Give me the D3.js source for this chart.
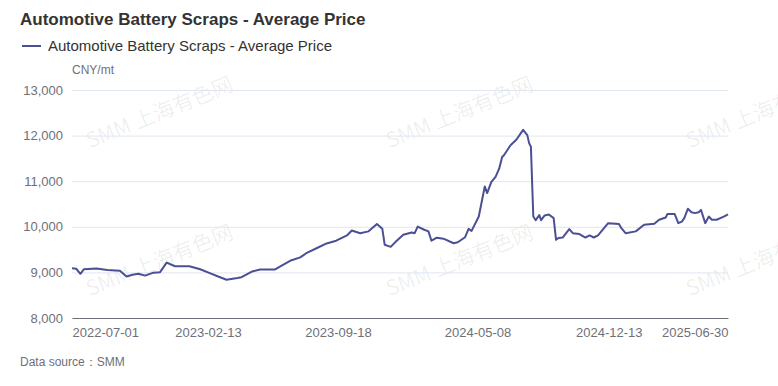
<!DOCTYPE html>
<html>
<head>
<meta charset="utf-8">
<script src="https://cdn.jsdelivr.net/npm/d3@7"></script>
<style>
  body { margin: 0; background: #fff; }
  svg { display: block; font-family: "Liberation Sans", "Noto Sans", sans-serif; }
</style>
</head>
<body>
<svg id="chart" width="778" height="386"></svg>
<script>
// chart data
const title = 'Automotive Battery Scraps - Average Price';
const seriesName = 'Automotive Battery Scraps - Average Price';
const unit = 'CNY/mt';
const source = 'Data source：SMM';

const dates = [
  '2022-07-01', '2022-07-08', '2022-07-15', '2022-07-21', '2022-08-11', '2022-08-29',
  '2022-09-19', '2022-09-30', '2022-10-10', '2022-10-20', '2022-10-31', '2022-11-14',
  '2022-11-25', '2022-12-06', '2022-12-20', '2023-01-13', '2023-01-31', '2023-02-16',
  '2023-03-02', '2023-03-16', '2023-04-03', '2023-04-10', '2023-04-28', '2023-05-11',
  '2023-06-05', '2023-06-16', '2023-06-30', '2023-07-17', '2023-07-28', '2023-08-14',
  '2023-08-30', '2023-09-15', '2023-10-03', '2023-10-11', '2023-10-25', '2023-11-08',
  '2023-11-22', '2023-12-01', '2023-12-05', '2023-12-15', '2023-12-25', '2024-01-05',
  '2024-01-19', '2024-01-24', '2024-01-29', '2024-02-09', '2024-02-16', '2024-02-21',
  '2024-03-01', '2024-03-12', '2024-03-29', '2024-04-05', '2024-04-17', '2024-04-23',
  '2024-04-28', '2024-05-10', '2024-05-20', '2024-05-24', '2024-05-31', '2024-06-07',
  '2024-06-13', '2024-06-18', '2024-06-21', '2024-07-02', '2024-07-12', '2024-07-23',
  '2024-07-30', '2024-08-02', '2024-08-05', '2024-08-09', '2024-08-13', '2024-08-19',
  '2024-08-22', '2024-08-28', '2024-09-04', '2024-09-12', '2024-09-16', '2024-09-20',
  '2024-09-27', '2024-10-08', '2024-10-14', '2024-10-25', '2024-11-04', '2024-11-11',
  '2024-11-18', '2024-11-25', '2024-12-12', '2024-12-30', '2025-01-03', '2025-01-10',
  '2025-01-27', '2025-02-10', '2025-02-27', '2025-03-07', '2025-03-18', '2025-03-21',
  '2025-04-02', '2025-04-08', '2025-04-14', '2025-04-18', '2025-04-24', '2025-04-30',
  '2025-05-06', '2025-05-12', '2025-05-16', '2025-05-23', '2025-05-29', '2025-06-03',
  '2025-06-11', '2025-06-23', '2025-06-30'
];

const prices = [
  9090, 9080, 8970, 9070, 9085, 9055,
  9035, 8910, 8950, 8970, 8930, 8995,
  9005, 9215, 9135, 9135, 9070, 8985,
  8910, 8840, 8875, 8895, 9020, 9065,
  9065, 9150, 9255, 9330, 9430, 9535,
  9635, 9695, 9810, 9920, 9860, 9900,
  10060, 9955, 9605, 9560, 9695, 9825,
  9875, 9860, 10005, 9935, 9900, 9695,
  9760, 9740, 9640, 9660, 9770, 9955,
  9910, 10225, 10885, 10740, 10985, 11095,
  11275, 11530, 11570, 11790, 11915, 12125,
  12010, 11835, 11755, 10225, 10145, 10255,
  10145, 10250, 10270, 10190, 9715, 9755,
  9765, 9950, 9860, 9840, 9765, 9810,
  9765, 9810, 10080, 10060, 9970, 9860,
  9900, 10045, 10065, 10155, 10205, 10280,
  10280, 10080, 10115, 10190, 10395, 10320,
  10300, 10320, 10370, 10080, 10225, 10155,
  10155, 10225, 10275
];

const xTickLabels = ['2022-07-01', '2023-02-13', '2023-09-18', '2024-05-08', '2024-12-13', '2025-06-30'];
const yTicks = [8000, 9000, 10000, 11000, 12000, 13000];

const parse = d3.timeParse('%Y-%m-%d');
const data = dates.map((d, i) => ({ date: parse(d), value: prices[i] }));

const svg = d3.select('#chart');
const plotLeft = 72, plotRight = 728, plotTop = 90, plotBottom = 318;

const x = d3.scaleTime()
  .domain([parse(dates[0]), parse(dates[dates.length - 1])])
  .range([plotLeft, plotRight]);

const y = d3.scaleLinear()
  .domain([8000, 13000])
  .range([plotBottom, plotTop]);

// watermark (the right column runs off the edge, as in the original)
const marks = [[160, 114], [460, 114], [760, 114], [160, 262], [460, 262], [760, 262]];
svg.append('g')
  .selectAll('text')
  .data(marks)
  .join('text')
  .attr('transform', d => `translate(${d[0]},${d[1]}) rotate(-22)`)
  .attr('text-anchor', 'middle')
  .attr('dominant-baseline', 'middle')
  .style('font-family', '"Noto Sans CJK SC", sans-serif')
  .style('font-size', '21px')
  .attr('fill', '#000')
  .attr('fill-opacity', 0.07)
  .text('SMM 上海有色网');

// gridlines + y labels
const yAxis = svg.append('g')
  .attr('transform', `translate(${plotLeft},0)`)
  .call(d3.axisLeft(y).tickValues(yTicks).tickSize(-(plotRight - plotLeft)).tickPadding(9).tickFormat(d3.format(',')));
yAxis.select('.domain').remove();
yAxis.selectAll('.tick line').attr('stroke', '#e0e6f1');
yAxis.selectAll('.tick text').attr('fill', '#6e7079').style('font-size', '13px');

// x axis
const xAxis = svg.append('g')
  .attr('transform', `translate(0,${plotBottom})`)
  .call(d3.axisBottom(x).tickValues(xTickLabels.map(parse)).tickSize(0).tickPadding(10)
    .tickFormat(d3.timeFormat('%Y-%m-%d')));
xAxis.select('.domain').attr('stroke', '#6e7079');
xAxis.selectAll('.tick text')
  .attr('fill', '#6e7079')
  .style('font-size', '13px')
  .attr('text-anchor', (d, i, n) => i === 0 ? 'start' : (i === n.length - 1 ? 'end' : 'middle'));

// line
const line = d3.line()
  .x(d => x(d.date))
  .y(d => y(d.value));

svg.append('path')
  .datum(data)
  .attr('fill', 'none')
  .attr('stroke', '#4b4f93')
  .attr('stroke-width', 2)
  .attr('stroke-linejoin', 'round')
  .attr('d', line);

// title, legend, unit, source
svg.append('text')
  .attr('x', 20).attr('y', 25)
  .attr('fill', '#333')
  .style('font-size', '17px')
  .style('font-weight', 'bold')
  .text(title);

svg.append('line')
  .attr('x1', 22).attr('x2', 41)
  .attr('y1', 46).attr('y2', 46)
  .attr('stroke', '#4b4f93')
  .attr('stroke-width', 2);

svg.append('text')
  .attr('x', 48).attr('y', 51)
  .attr('fill', '#333')
  .style('font-size', '15px')
  .text(seriesName);

svg.append('text')
  .attr('x', 72).attr('y', 74)
  .attr('fill', '#6e7079')
  .style('font-size', '12px')
  .text(unit);

svg.append('text')
  .attr('x', 20).attr('y', 366)
  .attr('fill', '#6e7079')
  .style('font-size', '12px')
  .text(source);
</script>
</body>
</html>
